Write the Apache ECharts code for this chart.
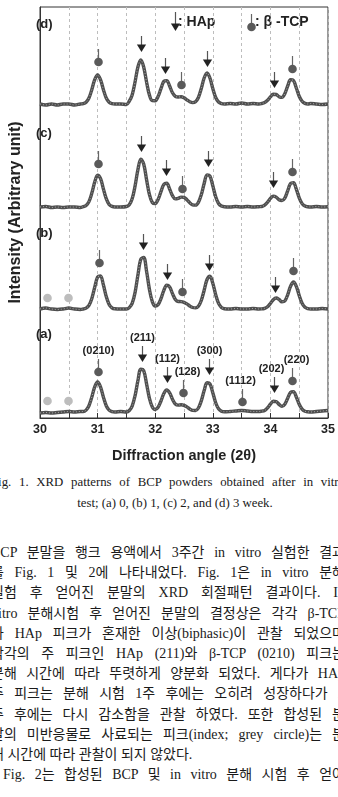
<!DOCTYPE html>
<html>
<head>
<meta charset="utf-8">
<script src="https://cdn.jsdelivr.net/npm/echarts@6/dist/echarts.min.js"></script>
<style>
    html, body { margin: 0; padding: 0; background: #fff; overflow: hidden; }
    body { width: 338px; height: 797px; position: relative; }
    #chart { position: absolute; left: 0; top: 0; width: 338px; height: 470px; }
    .block { position: absolute; left: -9px; width: 354px; color: #1a1a1a;
        font-family: "Liberation Serif", "Noto Sans CJK KR", serif; }
    .block div { white-space: nowrap; }
    .block .j { text-align: justify; text-align-last: justify; white-space: normal; }
    .block .c { text-align: center; padding-left: 14px; }
    #caption { top: 471.5px; font-size: 12.8px; line-height: 21px; }
    #caption div { height: 21px; }
    #para { top: 543px; font-size: 14px; line-height: 20.2px; }
    #para div { height: 20.2px; overflow: visible; }
</style>
</head>
<body>
<div id="chart"></div>
<div class="block" id="caption">
    <div class="j">Fig. 1. XRD patterns of BCP powders obtained after in vitro</div>
    <div class="c">test; (a) 0, (b) 1, (c) 2, and (d) 3 week.</div>
</div>
<div class="block" id="para">
    <div class="j">BCP 분말을 행크 용액에서 3주간 in vitro 실험한 결과</div>
    <div class="j">를 Fig. 1 및 2에 나타내었다. Fig. 1은 in vitro 분해</div>
    <div class="j">실험 후 얻어진 분말의 XRD 회절패턴 결과이다. In</div>
    <div class="j">vitro 분해시험 후 얻어진 분말의 결정상은 각각 β-TCP</div>
    <div class="j">와 HAp 피크가 혼재한 이상(biphasic)이 관찰 되었으며</div>
    <div class="j">각각의 주 피크인 HAp (211)와 β-TCP (0210) 피크는</div>
    <div class="j">분해 시간에 따라 뚜렷하게 양분화 되었다. 게다가 HAp</div>
    <div class="j">주 피크는 분해 시험 1주 후에는 오히려 성장하다가 2</div>
    <div class="j">주 후에는 다시 감소함을 관찰 하였다. 또한 합성된 분</div>
    <div class="j">말의 미반응물로 사료되는 피크(index; grey circle)는 분</div>
    <div>해 시간에 따라 관찰이 되지 않았다.</div>
    <div class="j" style="text-indent: 12px">Fig. 2는 합성된 BCP 및 in vitro 분해 시험 후 얻어</div>
</div>
<script>
// diffraction angle (2θ)
const angles = [
    30.0, 30.1, 30.2, 30.3, 30.4, 30.5, 30.6, 30.7,
    30.75, 30.8, 30.85, 30.9, 30.95, 31.0, 31.05, 31.1, 31.15, 31.2, 31.25, 31.3,
    31.4, 31.5,
    31.55, 31.6, 31.65, 31.7, 31.75, 31.8, 31.85, 31.9, 31.95, 32.0,
    32.05, 32.1, 32.15, 32.2, 32.25, 32.3, 32.35, 32.4, 32.45, 32.5,
    32.55, 32.6, 32.65, 32.7, 32.75, 32.8, 32.85, 32.9, 32.95, 33.0,
    33.05, 33.1, 33.15, 33.2,
    33.3, 33.4, 33.5, 33.6, 33.7, 33.8,
    33.85, 33.9, 33.95, 34.0, 34.05, 34.1, 34.15, 34.2, 34.25, 34.3,
    34.35, 34.4, 34.45, 34.5, 34.55, 34.6, 34.65, 34.7,
    34.8, 34.9, 35.0
];

// intensity above each pattern's own baseline
const week0 = [
    0, 0.5, 0, 0.5, 1, 1.5, 1, 1.5,
    1.5, 2.9, 7.3, 16, 26.2, 31, 26.2, 16, 7.3, 2.9, 1.4, 1,
    1.5, 1,
    2.5, 6.9, 17.2, 32.3, 43.8, 42.4, 29.2, 14.6, 6, 3.5,
    5.7, 12, 19.5, 23, 20.1, 13.7, 9, 7.9, 8.2, 7.7,
    6.1, 4, 2.6, 2.5, 5, 12.1, 22.4, 30.2, 29.2, 20.3,
    10.3, 4.2, 1.8, 1.2,
    1.5, 2, 2.5, 2, 1.5, 1.5,
    1.9, 2.5, 5.1, 8.8, 11.7, 11.4, 8.6, 6.6, 8.7, 14.8,
    20.7, 21.4, 16, 8.7, 3.8, 1.7, 1.2, 1,
    1.5, 2, 2.5
];
const week1 = [
    1, 2, 1, 0.5, 1, 2, 1, 0.5,
    1, 1.9, 4.6, 11.5, 22.8, 33, 34.1, 25.2, 13.5, 5.6, 2.2, 1.2,
    1, 1,
    2.4, 6.6, 17.4, 35, 50.8, 52.6, 38.7, 20.6, 8.4, 4,
    5.4, 11.4, 19.7, 24.8, 23.1, 16.4, 10.6, 8.5, 8.4, 7.7,
    6.1, 4, 2.5, 2.1, 3.8, 9.5, 19.8, 30.5, 33.8, 26.7,
    15.3, 6.6, 2.6, 1.3,
    1, 1.5, 1, 1, 1.5, 1,
    1.1, 1.7, 3.3, 6.5, 10.3, 12, 10.6, 8.2, 9, 15.2,
    23.7, 28, 23.7, 14.5, 6.7, 2.7, 1.4, 1,
    1, 1.5, 1
];
const week2 = [
    1, 1.5, 0.5, 1, 0.5, 1, 1, 0.5,
    1.4, 2.5, 6.4, 14.9, 26, 32.8, 29.6, 19.3, 9.3, 3.6, 1.6, 1,
    1, 1.5,
    3.3, 9.2, 21.8, 38.4, 48.7, 44, 28.4, 13.4, 5.5, 4.4,
    8.5, 16.4, 23.6, 24.7, 19, 12.3, 9.1, 9.6, 10.9, 10.6,
    8.3, 5.3, 3.2, 2.9, 5.7, 13.2, 24.5, 33.1, 32, 22.2,
    11.2, 4.5, 1.9, 1.2,
    1, 1.5, 1, 1.5, 1, 1.3,
    1.5, 2.9, 5.8, 9.6, 11.9, 10.9, 8.2, 7.5, 9.9, 17.2,
    24.5, 25.3, 18.8, 10.2, 4.4, 1.9, 1.2, 1,
    1.5, 1, 1.3
];
const week3 = [
    1, 0, 1, 0, 1, 1, 0, 1,
    1.4, 2.8, 7, 15.5, 25.4, 30, 25.4, 15.5, 7, 2.8, 1.4, 1,
    1, 0.5,
    3.8, 10, 23, 38, 45, 38, 23, 10, 4.4, 4.3,
    8.5, 16.4, 23.6, 24.3, 19, 12.2, 8.6, 8, 8.2, 7.2,
    5.2, 3.3, 2.4, 3.3, 7.5, 16.5, 27, 32, 27, 16.5,
    7.5, 3, 1.4, 1,
    1.5, 1, 2, 1, 1.5, 1,
    1.5, 2.4, 4.7, 8.1, 10.7, 10.5, 8.3, 7.6, 11.3, 19,
    25.2, 24.5, 17, 8.7, 3.7, 1.6, 1, 1.5,
    1, 0.5, 1
];

const panelNames = ['(a)', '(b)', '(c)', '(d)'];
const panelPatterns = [week0, week1, week2, week3];
// vertical stacking offset of each pattern
const panelOffsets = [5, 108, 210, 313];

// peak markers: [angle, height above baseline]
const hapPeaks = [
    [[31.77, 51], [32.2, 30], [32.93, 38], [34.07, 20]],
    [[31.78, 60], [32.2, 30], [32.93, 39], [34.08, 17]],
    [[31.76, 56], [32.18, 32], [32.92, 41], [34.05, 20]],
    [[31.75, 53], [32.17, 31], [32.9, 38], [34.07, 17]]
];
const tcpPeaks = [
    [[31.0, 41], [32.49, 20], [33.51, 11], [34.38, 32]],
    [[31.03, 47], [32.47, 18], [34.4, 39]],
    [[31.01, 44], [32.47, 19], [34.38, 36]],
    [[31.0, 43], [32.45, 20], [34.37, 36]]
];
const greyPeaks = [
    [[30.13, 12], [30.48, 12]],
    [[30.13, 12], [30.48, 12]],
    [],
    []
];
// Miller indices written on week 0
const hapIndices = ['(211)', '(112)', '(300)', '(202)'];
const tcpIndices = ['(0210)', '(128)', '(1112)', '(220)'];

const xTicks = [30, 31, 32, 33, 34, 35];

const FONT = '"Liberation Sans", Arial, sans-serif';
const INK = '#222';
const labelNudge = { '(128)': 4, '(202)': -3, '(220)': 4, '(1112)': -2 };

const arrowParts = (x, tip, len) => [
    {
        type: 'line',
        shape: { x1: x, y1: tip - len, x2: x, y2: tip - 6 },
        style: { stroke: '#555', lineWidth: 1.2 }
    },
    {
        type: 'polygon',
        shape: { points: [[x - 4.6, tip - 7.5], [x + 4.6, tip - 7.5], [x, tip]] },
        style: { fill: INK }
    }
];

const dotParts = (x, cy, color, stem) => {
    const parts = [];
    if (stem) {
        parts.push({
            type: 'line',
            shape: { x1: x, y1: cy - 13, x2: x, y2: cy - 4 },
            style: { stroke: '#666', lineWidth: 1.2 }
        });
    }
    parts.push({ type: 'circle', shape: { cx: x, cy: cy, r: 4.3 }, style: { fill: color } });
    return parts;
};

const markerSeries = (kind, points, labels) => ({
    type: 'custom',
    silent: true,
    z: 5,
    data: points,
    renderItem: (params, api) => {
        const p = api.coord([api.value(0), api.value(1)]);
        const x = Math.round(p[0]) + 0.5;
        let children;
        if (kind === 'hap') {
            children = arrowParts(x, p[1], 16);
        } else if (kind === 'tcp') {
            children = dotParts(x, p[1], '#5a5a5a', true);
        } else {
            children = dotParts(x, p[1], '#bdbdbd', false);
        }
        const text = labels && labels[params.dataIndex];
        if (text) {
            children.push({
                type: 'text',
                x: x + (labelNudge[text] || 0),
                y: p[1] - (kind === 'hap' ? 24 : 21),
                style: {
                    text: text, fill: INK, font: 'bold 11px ' + FONT,
                    align: 'center', verticalAlign: 'middle'
                }
            });
        }
        return { type: 'group', children };
    }
});

const shift = (points, i) => points.map(([a, v]) => [a, panelOffsets[i] + v]);

const series = [];
panelPatterns.forEach((values, i) => {
    const data = angles.map((a, j) => [a, panelOffsets[i] + values[j]]);
    series.push({
        type: 'line', data, smooth: 0.35, showSymbol: false, silent: true, z: 3,
        lineStyle: { color: '#4f4f4f', width: 3.4 }
    });
    series.push({
        type: 'line', data, smooth: 0.35, showSymbol: false, silent: true, z: 4,
        lineStyle: { color: '#a8a8a8', width: 1, type: [1, 2] }
    });
    series.push(markerSeries('hap', shift(hapPeaks[i], i), i === 0 ? hapIndices : null));
    series.push(markerSeries('tcp', shift(tcpPeaks[i], i), i === 0 ? tcpIndices : null));
    series.push(markerSeries('grey', shift(greyPeaks[i], i), null));
});

const panelLabelY = [336, 235, 135, 26];
const graphic = panelNames.map((name, i) => ({
    type: 'text', left: 36, top: panelLabelY[i] - 8,
    style: { text: name, font: 'bold 13px ' + FONT, fill: INK }
}));
// legend
graphic.push({ type: 'group', children: arrowParts(175.5, 31, 19) });
graphic.push({
    type: 'text', x: 178, y: 22,
    style: { text: ': HAp', font: 'bold 14px ' + FONT, fill: INK, verticalAlign: 'middle' }
});
graphic.push({ type: 'group', children: dotParts(251.5, 27, '#5a5a5a', true) });
graphic.push({
    type: 'text', x: 255, y: 22,
    style: { text: ': β -TCP', font: 'bold 14px ' + FONT, fill: INK, verticalAlign: 'middle' }
});

const chart = echarts.init(document.getElementById('chart'));
chart.setOption({
    animation: false,
    grid: {
        left: 29, right: 10, top: 7, bottom: 52,
        show: true, borderColor: '#333', borderWidth: 1
    },
    xAxis: {
        type: 'value', min: 30, max: 35, interval: 0.5,
        name: 'Diffraction angle (2θ)', nameLocation: 'middle', nameGap: 30,
        nameTextStyle: { fontFamily: FONT, fontWeight: 'bold', fontSize: 14.5, color: INK },
        axisLine: { lineStyle: { color: '#333' } },
        axisTick: { inside: true, length: 5, lineStyle: { color: '#333' } },
        axisLabel: {
            margin: 5, fontFamily: FONT, fontWeight: 'bold', fontSize: 12.5, color: INK,
            formatter: v => (xTicks.indexOf(v) >= 0 ? String(v) : '')
        },
        splitLine: { show: true, lineStyle: { color: '#bdbdbd', type: [3, 3], width: 1 } }
    },
    yAxis: {
        type: 'value', min: 0, max: 411,
        name: 'Intensity (Arbitrary unit)', nameLocation: 'middle', nameGap: 16,
        nameTextStyle: { fontFamily: FONT, fontWeight: 'bold', fontSize: 16, color: INK },
        axisLine: { show: true, lineStyle: { color: '#333' } },
        axisTick: {
            show: true, inside: true, length: 3,
            customValues: panelOffsets.slice(1).map(v => v + 1),
            lineStyle: { color: '#333' }
        },
        axisLabel: { show: false },
        splitLine: { show: false }
    },
    graphic,
    series
});
</script>
</body>
</html>
